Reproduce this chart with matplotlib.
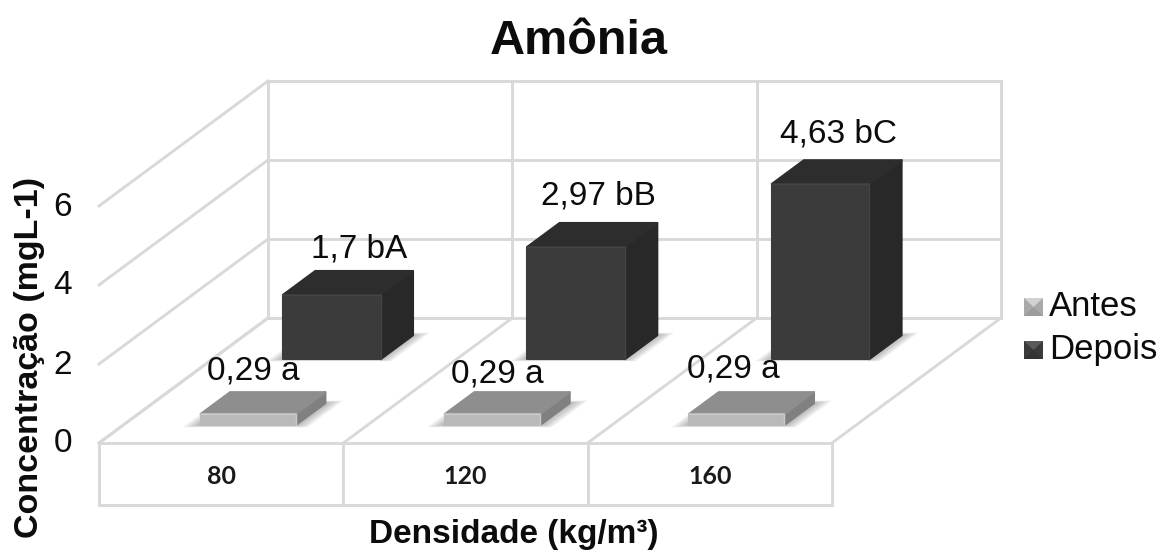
import matplotlib
matplotlib.use('Agg')
import matplotlib.pyplot as plt
from matplotlib.patches import Polygon

categorias = ['80', '120', '160']
antes = [0.29, 0.29, 0.29]
depois = [1.7, 2.97, 4.63]
rotulos_antes = ['0,29 a', '0,29 a', '0,29 a']
rotulos_depois = ['1,7 bA', '2,97 bB', '4,63 bC']
ticks_y = [0, 2, 4, 6]

plt.rcParams['font.family'] = ['Liberation Sans', 'DejaVu Sans']

W, H = 1158, 551
# pixels of the 3D box: origin at the front left corner of the floor
X0, Y0 = 99, 443
CAT_PX, VAL_PX = 244.3, 39.5
DEPTH_X, DEPTH_Y = 169, 125
BAR_SCALE = 0.957
GRID = '#d9d9d9'
PRETO = '#0c0c0c'

fig = plt.figure(figsize=(W/100, H/100), dpi=100)
ax = fig.add_axes([0, 0, 1, 1])
ax.set_xlim(-X0/CAT_PX, (W-X0)/CAT_PX)
ax.set_ylim(-(H-Y0)/VAL_PX, Y0/VAL_PX)
ax.axis('off')


# x in categories, v in values, d from 0 (front) to 1 (back wall)
def proj(x, v, d=0):
    return x + d*DEPTH_X/CAT_PX, v + d*DEPTH_Y/VAL_PX


def px(x, y):
    return (x-X0)/CAT_PX, (Y0-y)/VAL_PX


def line(a, b, lw=2.1):
    ax.plot([a[0], b[0]], [a[1], b[1]], c=GRID, lw=lw, zorder=1, solid_capstyle='projecting')


n = len(categorias)
top = ticks_y[-1]

# walls and floor
for t in ticks_y:
    line(proj(0, t, 0), proj(0, t, 1))
    line(proj(0, t, 1), proj(n, t, 1))
for i in range(n+1):
    line(proj(i, 0, 0), proj(i, 0, 1))
    line(proj(i, 0, 1), proj(i, top, 1))
line(proj(0, 0), proj(n, 0))

# category table under the floor
fundo = -62/VAL_PX
line(proj(0, fundo), proj(n, fundo))
for i in range(n+1):
    line(proj(i, 0), proj(i, fundo))
for i, c in enumerate(categorias):
    ax.text(i+0.5, -34/VAL_PX, c, family='Lato', weight='bold', fontsize=18, ha='center', va='center', color='#1a1a1a')


def sombra(x0, w, d0, dd, extra_x, extra_y):
    # soft shadow on the floor, a few see-through layers
    for k in range(1, 7):
        ex = extra_x*k/6
        ey = extra_y*k/6
        cantos = [proj(x0-ex, 0, d0-0.003*k), proj(x0+w+ex, 0, d0-0.003*k),
                  proj(x0+w+ex, 0, d0+dd+ey), proj(x0-ex, 0, d0+dd+ey)]
        ax.add_patch(Polygon(cantos, fc='#555555', ec='none', alpha=0.08, zorder=2))


def barra(x0, w, d0, dd, v, c_frente, c_topo, c_lado, c_brilho):
    a = v*BAR_SCALE
    f1, f2 = proj(x0, 0, d0), proj(x0+w, 0, d0)
    f3, f4 = proj(x0+w, a, d0), proj(x0, a, d0)
    b1, b2 = proj(x0+w, 0, d0+dd), proj(x0+w, a, d0+dd)
    b3 = proj(x0, a, d0+dd)
    ax.add_patch(Polygon([f2, b1, b2, f3], fc=c_lado, ec=c_lado, lw=1.5, joinstyle='round', zorder=3))
    ax.add_patch(Polygon([f4, f3, b2, b3], fc=c_topo, ec=c_topo, lw=1.5, joinstyle='round', zorder=3))
    ax.add_patch(Polygon([f1, f2, f3, f4], fc=c_frente, ec=c_frente, lw=1.5, joinstyle='round', zorder=4))
    ax.plot([f4[0], f3[0], f2[0]], [f4[1], f3[1], f2[1]], c=c_brilho, lw=1, zorder=5, solid_joinstyle='round')


# Depois bars stand behind the Antes bars
for i in range(n):
    sombra(i+0.289, 0.40, 0.672, 0.19, 0.055, 0.02)
    barra(i+0.289, 0.40, 0.672, 0.19, depois[i], '#3b3b3b', '#2d2d2d', '#282828', '#444444')
for i in range(n):
    sombra(i+0.316, 0.39, 0.144, 0.175, 0.06, 0.02)
    barra(i+0.316, 0.39, 0.144, 0.175, antes[i], '#b9b9b9', '#8e8e8e', '#808080', '#c9c9c9')

# value labels
pos_antes = [(253, 371), (497, 374), (733, 369)]
pos_depois = [(359, 249), (598, 196), (838, 134)]
for i in range(n):
    x, y = px(*pos_antes[i])
    ax.text(x, y, rotulos_antes[i], fontsize=24, ha='center', va='center', color=PRETO, zorder=6)
    x, y = px(*pos_depois[i])
    ax.text(x, y, rotulos_depois[i], fontsize=24, ha='center', va='center', color=PRETO, zorder=6)

# value axis labels
for t in ticks_y:
    x, y = px(72, Y0-t*VAL_PX+1)
    ax.text(x, y, str(t), fontsize=24, ha='right', va='center', color=PRETO)

# titles
x, y = px(579, 42)
ax.text(x, y, 'Amônia', fontsize=35, weight='bold', ha='center', va='center', color=PRETO)
x, y = px(514, 535)
ax.text(x, y, 'Densidade (kg/m³)', fontsize=24, weight='bold', ha='center', va='center', color=PRETO)
x, y = px(30, 357)
ax.text(x, y, 'Concentração (mgL-1)', fontsize=24.5, weight='bold', rotation=90, ha='center', va='center', color=PRETO)


# legend
def chave(y_px, c_meio, c_topo, c_base):
    x1, y1 = px(1024, y_px-9)
    x2, y2 = px(1043, y_px+9)
    xm, ym = px(1033.5, y_px)
    ax.add_patch(Polygon([(x1, y1), (x2, y1), (x2, y2), (x1, y2)], fc=c_meio, ec='none', zorder=3))
    ax.add_patch(Polygon([(x1, y1), (x2, y1), (xm, ym)], fc=c_topo, ec='none', zorder=4))
    ax.add_patch(Polygon([(x1, y2), (x2, y2), (xm, ym)], fc=c_base, ec='none', zorder=4))


chave(307, '#a9a9a9', '#d2d2d2', '#9c9c9c')
chave(350, '#3a3a3a', '#5a5a5a', '#333333')
x, y = px(1049, 307)
ax.text(x, y, 'Antes', fontsize=25, ha='left', va='center', color=PRETO)
x, y = px(1049, 350)
ax.text(x, y, 'Depois', fontsize=25, ha='left', va='center', color=PRETO)

plt.savefig('out.png', dpi=100)
